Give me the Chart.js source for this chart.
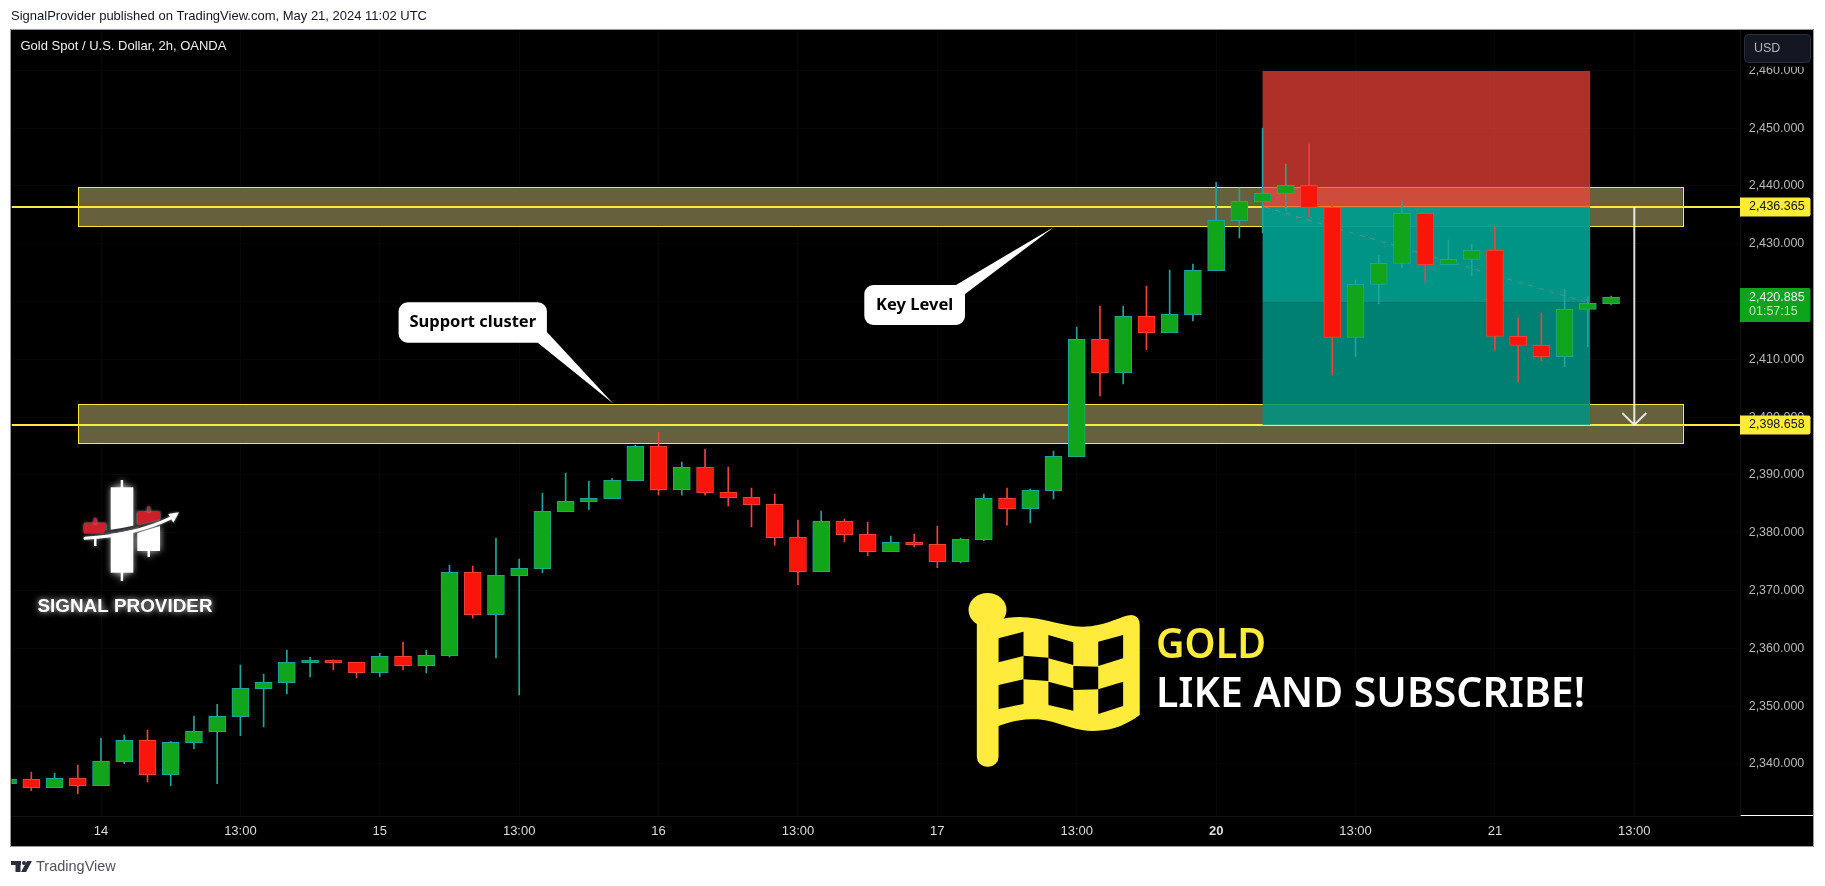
<!DOCTYPE html>
<html>
<head>
<meta charset="utf-8">
<title>Gold Spot / U.S. Dollar, 2h, OANDA</title>
<script src="https://cdn.jsdelivr.net/npm/chart.js@4"></script>
<style>
  html, body { margin: 0; padding: 0; background: #fff; overflow: hidden; }
  canvas { display: block; }
</style>
</head>
<body>
<canvas id="chart" width="1825" height="886"></canvas>
<script>
// -------- data ---------------------------------
const firstBar = -4; // bar index of the first candle, 0 is the "14" bar
const opens = [2336.59,2337.34,2335.90,2337.51,2336.25,2340.40,2344.09,2338.15,2343.69,2345.59,2348.18,2353.03,2354.07,2357.53,2357.99,2357.58,2355.80,2358.62,2357.01,2358.74,2373.16,2365.83,2372.58,2373.79,2383.65,2385.38,2385.90,2389.01,2394.95,2387.46,2391.32,2387.00,2386.13,2384.92,2379.21,2373.27,2381.98,2379.73,2376.73,2378.34,2378.00,2375.00,2378.81,2385.96,2384.17,2387.28,2393.17,2413.47,2407.71,2417.45,2414.63,2417.74,2425.35,2434.00,2437.29,2438.73,2440.12,2436.31,2413.82,2422.99,2426.62,2435.27,2426.39,2427.31,2428.87,2413.99,2412.43,2410.47,2418.66,2419.65];
const highs = [2337.34,2338.61,2338.44,2339.82,2344.49,2345.01,2345.88,2343.92,2348.30,2350.32,2357.12,2355.57,2359.72,2358.45,2357.99,2357.58,2359.14,2361.10,2359.72,2374.42,2374.25,2379.09,2375.46,2386.88,2390.34,2388.90,2389.42,2395.18,2397.43,2392.24,2394.43,2391.38,2387.75,2386.71,2382.21,2383.77,2382.38,2381.86,2379.44,2379.79,2381.17,2379.09,2386.71,2387.75,2387.57,2394.15,2415.61,2419.24,2419.24,2422.70,2425.47,2426.51,2440.63,2439.65,2450.04,2443.81,2447.27,2437.17,2423.74,2428.06,2437.41,2435.27,2430.66,2429.97,2433.08,2417.16,2417.97,2422.18,2420.85,2420.97];
const lows = [2336.59,2335.38,2335.90,2334.86,2336.25,2340.05,2336.88,2336.25,2342.65,2336.59,2344.90,2346.40,2352.11,2355.05,2356.26,2354.87,2355.05,2356.26,2355.74,2358.51,2365.25,2358.33,2351.93,2373.04,2383.65,2383.94,2385.90,2389.01,2386.53,2386.53,2386.53,2384.63,2381.00,2377.88,2370.97,2373.27,2378.40,2375.98,2376.73,2377.54,2373.96,2374.77,2378.63,2381.34,2381.69,2385.84,2393.17,2403.67,2405.74,2411.68,2414.63,2416.64,2425.35,2431.00,2431.93,2435.73,2434.69,2407.36,2410.47,2419.59,2425.81,2423.45,2426.39,2424.43,2411.63,2406.09,2409.72,2408.74,2412.20,2419.41];
const closes = [2337.34,2335.90,2337.51,2336.25,2340.46,2344.09,2338.15,2343.74,2345.65,2348.24,2353.09,2354.12,2357.58,2357.99,2357.53,2355.80,2358.62,2357.01,2358.80,2373.16,2365.83,2372.64,2373.85,2383.71,2385.44,2385.96,2389.07,2394.95,2387.46,2391.32,2386.94,2386.07,2384.86,2379.15,2373.27,2381.98,2379.67,2376.73,2378.34,2377.94,2375.00,2378.86,2385.96,2384.17,2387.34,2393.22,2413.47,2407.71,2417.45,2414.63,2417.80,2425.41,2434.06,2437.35,2438.73,2440.12,2436.31,2413.82,2422.99,2426.62,2435.27,2426.39,2427.31,2428.87,2413.99,2412.43,2410.47,2418.66,2419.70,2420.74];

const timeLabels = ["14","13:00","15","13:00","16","13:00","17","13:00","20","13:00","21","13:00"];
const barsPerTick = 6;
const priceTicks = [2340,2350,2360,2370,2380,2390,2400,2410,2420,2430,2440,2450,2460];

const resistanceZone = [2433.03, 2439.77];
const supportZone = [2395.41, 2402.23];
const zoneBars = [-0.98, 68.09];
const entryPrice = 2436.365;
const targetPrice = 2398.658;
const lastPrice = 2420.885;
const countdown = "01:57:15";
const positionBars = [50, 64.1];
const stopPrice = 2459.9;
const positionMidPrice = 2419.8;
const arrowBar = 66;

// -------- colores ----------
const UP_FILL = "#11a51b", UP_LINE = "#1fa597";
const DOWN_FILL = "#f9150a", DOWN_LINE = "#f2403a";
const YELLOW = "#ffeb3b";
const SANS = '"Liberation Sans", Arial, sans-serif';
const NOTO = '"Noto Sans", sans-serif';

const isUp = (i) => closes[i] >= opens[i];
const barX = (i) => firstBar + i;
const fmtPrice = (v) => v.toLocaleString("en-US", { minimumFractionDigits: 3, maximumFractionDigits: 3 });

// -------- helpers de dibujo ----------
function txt(ctx, s, x, y, font, color, align = "left", maxWidth) {
  ctx.font = font;
  ctx.fillStyle = color;
  ctx.textAlign = align;
  ctx.textBaseline = "middle";
  if (maxWidth) ctx.fillText(s, x, y, maxWidth);
  else ctx.fillText(s, x, y);
}

function poly(ctx, pts) {
  ctx.beginPath();
  pts.forEach(([x, y], i) => i ? ctx.lineTo(x, y) : ctx.moveTo(x, y));
  ctx.closePath();
  ctx.fill();
}

function callout(ctx, rect, tail, label, font) {
  ctx.fillStyle = "#fff";
  ctx.beginPath();
  ctx.roundRect(rect[0], rect[1], rect[2] - rect[0], rect[3] - rect[1], 9);
  ctx.fill();
  poly(ctx, tail);
  txt(ctx, label, (rect[0] + rect[2]) / 2, (rect[1] + rect[3]) / 2, font, "#000", "center");
}

function priceTag(ctx, y, h, fill, color, label) {
  ctx.fillStyle = fill;
  ctx.beginPath();
  ctx.roundRect(1740, y, 70.5, h, [0, 2, 2, 0]);
  ctx.fill();
  txt(ctx, label, 1749, y + 9.5, `12.5px ${SANS}`, color);
}

function drawLogo(ctx) {
  ctx.save();
  ctx.shadowColor = "rgba(255,255,255,.8)";
  ctx.shadowBlur = 7;
  ctx.fillStyle = "#fff";
  ctx.fillRect(110.7, 487.3, 22.6, 85.4);
  ctx.fillRect(120.7, 480, 2.5, 101);
  poly(ctx, [[137.3, 533], [160, 526], [160, 551], [137.3, 551]]);
  ctx.fillRect(147.5, 551, 2.5, 6);
  ctx.fillRect(94, 538, 2.5, 8);
  ctx.shadowBlur = 3;
  ctx.fillStyle = "#cc1f2b";
  ctx.fillRect(84, 522.7, 22, 10.6);
  ctx.fillRect(94, 518.3, 2.5, 5);
  poly(ctx, [[137.3, 511.7], [160, 511.7], [160, 519.5], [137.3, 525]]);
  ctx.fillRect(147.5, 506.7, 2.5, 5);
  ctx.restore();

  // flecha curva con banda oscura encima
  ctx.save();
  ctx.lineCap = "round";
  ctx.beginPath();
  ctx.moveTo(106, 532.5);
  ctx.quadraticCurveTo(122, 530.5, 137, 527);
  ctx.strokeStyle = "#333338";
  ctx.lineWidth = 4;
  ctx.stroke();
  ctx.beginPath();
  ctx.moveTo(85, 538.3);
  ctx.quadraticCurveTo(135, 535, 170, 518.3);
  ctx.strokeStyle = "#fff";
  ctx.lineWidth = 3;
  ctx.shadowColor = "rgba(255,255,255,.6)";
  ctx.shadowBlur = 3;
  ctx.stroke();
  ctx.fillStyle = "#fff";
  poly(ctx, [[179, 512.3], [168.3, 514], [173.3, 522.7]]);
  ctx.shadowColor = "rgba(255,255,255,.9)";
  ctx.shadowBlur = 6;
  txt(ctx, "SIGNAL PROVIDER", 37.5, 606.5, `bold 19px ${SANS}`, "#fff", "left", 175);
  ctx.restore();
}

function drawFlag(ctx) {
  // coordenadas de la bandera tal como aparecen en la lamina
  const X = (z) => 600 + z / 2.529;
  const Y = (z) => 400 + z / 3;
  const quad = (x0, x1, t0, t1, b0, b1) => poly(ctx, [[X(x0), Y(t0)], [X(x1), Y(t1)], [X(x1), Y(b1)], [X(x0), Y(b0)]]);
  ctx.save();
  ctx.fillStyle = YELLOW;
  ctx.beginPath();
  ctx.ellipse(X(980), Y(630), 19, 17, 0, 0, Math.PI * 2);
  ctx.fill();
  ctx.beginPath();
  ctx.roundRect(X(953), Y(640), (1008 - 953) / 2.529, (1100 - 640) / 3, 10);
  ctx.fill();
  ctx.beginPath();
  ctx.moveTo(X(1000), Y(662));
  ctx.bezierCurveTo(X(1090), Y(630), X(1150), Y(680), X(1220), Y(680));
  ctx.bezierCurveTo(X(1280), Y(680), X(1320), Y(645), X(1345), Y(645));
  ctx.quadraticCurveTo(X(1365), Y(648), X(1365), Y(675));
  ctx.lineTo(X(1365), Y(945));
  ctx.bezierCurveTo(X(1320), Y(985), X(1280), Y(993), X(1245), Y(993));
  ctx.bezierCurveTo(X(1180), Y(990), X(1150), Y(955), X(1090), Y(958));
  ctx.bezierCurveTo(X(1050), Y(960), X(1025), Y(970), X(1000), Y(982));
  ctx.closePath();
  ctx.fill();
  ctx.fillStyle = "#000";
  quad(1008, 1071, 715, 695, 787, 768);
  quad(1134, 1197, 705, 727, 775, 795);
  quad(1260, 1323, 725, 705, 798, 775);
  quad(1071, 1134, 767, 773, 838, 843);
  quad(1197, 1260, 798, 800, 870, 868);
  quad(1008, 1071, 855, 838, 927, 912);
  quad(1134, 1197, 845, 865, 915, 932);
  quad(1260, 1323, 868, 845, 942, 918);
  ctx.restore();
  txt(ctx, "GOLD", 1156, 646.5, `600 41px ${NOTO}`, YELLOW, "left", 110);
  txt(ctx, "LIKE AND SUBSCRIBE!", 1156, 695.5, `600 41px ${NOTO}`, "#fff", "left", 429);
}

function drawTradingViewMark(ctx) {
  ctx.fillStyle = "#2a2e39";
  ctx.fillRect(11, 861, 10, 4);
  ctx.fillRect(15.5, 861, 5, 11);
  ctx.beginPath();
  ctx.arc(24, 863, 2, 0, Math.PI * 2);
  ctx.fill();
  poly(ctx, [[27, 861], [32, 861], [26, 872], [21, 872]]);
  txt(ctx, "TradingView", 36, 867, `14.5px ${SANS}`, "#50535e");
}

// -------- plugins ----------
const panelPlugin = {
  id: "panel",
  beforeDraw(chart) {
    const { ctx } = chart;
    ctx.save();
    ctx.fillStyle = "#fff";
    ctx.fillRect(0, 0, chart.width, chart.height);
    ctx.fillStyle = "#000";
    ctx.fillRect(11, 30, 1802.5, 816.5);
    ctx.strokeStyle = "#9598a1";
    ctx.lineWidth = 1;
    ctx.strokeRect(10.5, 29.5, 1803, 817);
    ctx.restore();
    ctx.save();
    txt(ctx, "SignalProvider published on TradingView.com, May 21, 2024 11:02 UTC", 11, 16.5, `13px ${SANS}`, "#131722", "left", 422);
    drawTradingViewMark(ctx);
    ctx.restore();
  }
};

const levelsPlugin = {
  id: "levels",
  beforeDatasetsDraw(chart) {
    const { ctx, chartArea: a, scales: { x, y } } = chart;
    const px = (v) => x.getPixelForValue(v);
    const py = (v) => y.getPixelForValue(v);
    ctx.save();
    ctx.beginPath();
    ctx.rect(a.left, a.top, a.right - a.left, a.bottom - a.top);
    ctx.clip();

    [resistanceZone, supportZone].forEach(([lo, hi]) => {
      const l = px(zoneBars[0]), r = px(zoneBars[1]);
      ctx.fillStyle = "#66603c";
      ctx.fillRect(l, py(hi), r - l, py(lo) - py(hi));
      ctx.strokeStyle = YELLOW;
      ctx.lineWidth = 1;
      ctx.strokeRect(Math.round(l) + 0.5, Math.round(py(hi)) + 0.5, Math.round(r - l), Math.round(py(lo) - py(hi)));
    });

    [entryPrice, targetPrice].forEach((p) => {
      ctx.fillStyle = YELLOW;
      ctx.fillRect(a.left, Math.round(py(p)) - 1, a.right - a.left, 2);
    });

    const l = px(positionBars[0]), r = px(positionBars[1]);
    ctx.fillStyle = "rgba(249,69,59,.7)";
    ctx.fillRect(l, py(stopPrice), r - l, py(entryPrice) - py(stopPrice));
    ctx.fillStyle = "rgba(0,156,142,.95)";
    ctx.fillRect(l, py(entryPrice), r - l, py(positionMidPrice) - py(entryPrice));
    ctx.fillStyle = "rgba(0,147,132,.87)";
    ctx.fillRect(l, py(positionMidPrice), r - l, py(targetPrice) - py(positionMidPrice));

    // linea de trade punteada
    ctx.strokeStyle = "rgba(170,140,140,.5)";
    ctx.lineWidth = 1;
    ctx.setLineDash([5, 6]);
    ctx.beginPath();
    ctx.moveTo(l + 2, py(entryPrice));
    ctx.lineTo(r - 2, py(positionMidPrice));
    ctx.stroke();
    ctx.restore();
  },
  afterDatasetsDraw(chart) {
    const { ctx, scales: { x, y } } = chart;
    const ax = x.getPixelForValue(arrowBar);
    const top = y.getPixelForValue(entryPrice), bot = y.getPixelForValue(targetPrice);
    ctx.save();
    ctx.strokeStyle = "rgba(255,255,255,.85)";
    ctx.lineWidth = 2;
    ctx.beginPath();
    ctx.moveTo(ax, top);
    ctx.lineTo(ax, bot);
    ctx.moveTo(ax - 12, bot - 12);
    ctx.lineTo(ax, bot);
    ctx.lineTo(ax + 12, bot - 12);
    ctx.stroke();

    callout(ctx, [398.6, 302.3, 546.9, 342.7], [[546.9, 332], [537.8, 342.7], [612.9, 403.3]], "Support cluster", `bold 16.5px ${NOTO}`);
    callout(ctx, [864.3, 285, 965, 325], [[956, 285], [965, 294], [1054, 227]], "Key Level", `bold 16.5px ${NOTO}`);
    drawLogo(ctx);
    drawFlag(ctx);
    ctx.restore();
  },
  afterDraw(chart) {
    const { ctx, chartArea: a, scales: { y } } = chart;
    ctx.save();
    txt(ctx, "Gold Spot / U.S. Dollar, 2h, OANDA", 20.5, 46.5, `13px ${SANS}`, "#f0f0f0", "left", 208);

    // linea blanca entre eje de precios y esquina
    ctx.fillStyle = "#fff";
    ctx.fillRect(a.right, 815, 1813 - a.right, 1);

    // boton USD sobre el eje, tapa la parte alta de la etiqueta 2,460
    ctx.fillStyle = "#000";
    ctx.fillRect(a.right + 1, 31, 71, 35.7);
    ctx.fillStyle = "#131722";
    ctx.strokeStyle = "#2a2e39";
    ctx.lineWidth = 1;
    ctx.beginPath();
    ctx.roundRect(1744.5, 34.5, 66, 28, 4);
    ctx.fill();
    ctx.stroke();
    txt(ctx, "USD", 1754, 48.5, `12.5px ${SANS}`, "#b2b5be");

    priceTag(ctx, Math.round(y.getPixelForValue(entryPrice)) - 9.5, 19, YELLOW, "#131722", fmtPrice(entryPrice));
    priceTag(ctx, Math.round(y.getPixelForValue(targetPrice)) - 9.5, 19, YELLOW, "#131722", fmtPrice(targetPrice));
    priceTag(ctx, 288, 34, "#0da41a", "#e6f5e6", fmtPrice(lastPrice));
    txt(ctx, countdown, 1749, 312, `12.5px ${SANS}`, "#b5e6b8");
    ctx.restore();
  }
};

// -------- Chart.js ----------
new Chart(document.getElementById("chart"), {
  type: "bar",
  data: {
    datasets: [
      {
        label: "Wicks",
        data: highs.map((h, i) => ({ x: barX(i), y: [lows[i], h] })),
        backgroundColor: opens.map((_, i) => isUp(i) ? UP_LINE : DOWN_LINE),
        barThickness: 1,
        grouped: false,
        order: 2
      },
      {
        label: "Candles",
        data: opens.map((o, i) => ({ x: barX(i), y: [o, closes[i]] })),
        backgroundColor: opens.map((_, i) => isUp(i) ? UP_FILL : DOWN_FILL),
        borderColor: opens.map((_, i) => isUp(i) ? UP_LINE : DOWN_LINE),
        borderWidth: 1,
        borderSkipped: false,
        barThickness: 17,
        grouped: false,
        order: 1
      }
    ]
  },
  options: {
    responsive: false,
    animation: false,
    devicePixelRatio: 1,
    events: [],
    layout: { padding: { left: 11.5, top: 30, right: 12, bottom: 40 } },
    plugins: { legend: { display: false }, tooltip: { enabled: false } },
    scales: {
      x: {
        type: "linear",
        offset: false,
        min: -3.853,
        max: 70.58,
        afterBuildTicks: (s) => { s.ticks = timeLabels.map((_, i) => ({ value: i * barsPerTick })); },
        afterFit: (s) => { s.height = 29.3; },
        grid: { color: "#070708", drawTicks: false, offset: false },
        border: { color: "#101012" },
        ticks: {
          autoSkip: false,
          maxRotation: 0,
          padding: 7,
          color: "#dcdcdc",
          font: (c) => ({ family: SANS, size: 13, weight: timeLabels[c.index] === "20" ? "bold" : "normal" }),
          callback: (v, i) => timeLabels[i]
        }
      },
      y: {
        position: "right",
        min: 2330.88,
        max: 2466.99,
        afterBuildTicks: (s) => { s.ticks = priceTicks.map((value) => ({ value })); },
        afterFit: (s) => { s.width = 72.3; },
        grid: { color: "#070708", drawTicks: false },
        border: { color: "#101012" },
        ticks: {
          crossAlign: "near",
          padding: 8,
          color: "#b8b8b8",
          font: { family: SANS, size: 12.5 },
          callback: (v) => fmtPrice(v)
        }
      }
    }
  },
  plugins: [panelPlugin, levelsPlugin]
});
</script>
</body>
</html>
